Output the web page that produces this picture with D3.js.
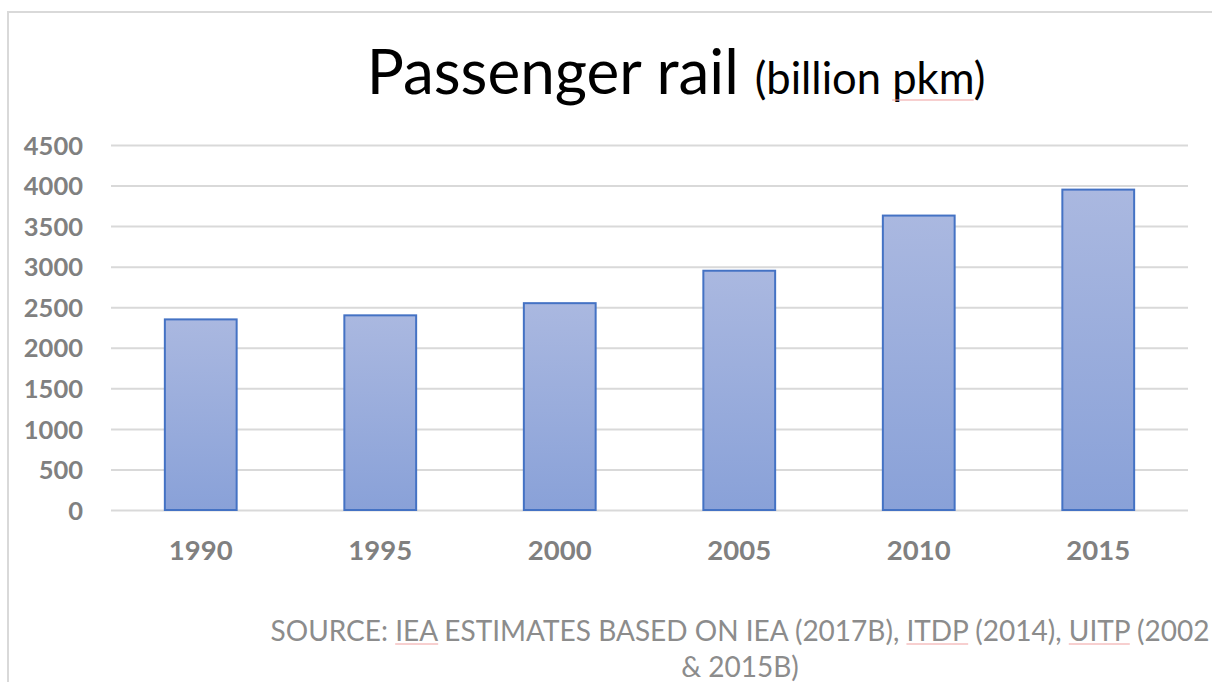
<!DOCTYPE html>
<html>
<head>
<meta charset="utf-8">
<script src="https://cdn.jsdelivr.net/npm/d3@7"></script>
<style>
  html, body { margin: 0; padding: 0; background: #fff; overflow: hidden; }
  #chart { width: 1212px; height: 682px; }
</style>
</head>
<body>
<div id="chart"></div>
<script>
// Veriler
const years = ["1990", "1995", "2000", "2005", "2010", "2015"];
const values = [2350, 2400, 2550, 2950, 3630, 3950];
const yTicks = [0, 500, 1000, 1500, 2000, 2500, 3000, 3500, 4000, 4500];
const titleMain = "Passenger rail";
const titleSub = "(billion pkm)";
const sourceLines = [
    ["SOURCE: ", "IEA", " ESTIMATES BASED ON IEA (2017B), ", "ITDP", " (2014), ", "UITP", " (2002"],
    ["& 2015B)"]
];
const flagged = ["IEA", "ITDP", "UITP", "pkm"];

const width = 1212, height = 682;
const margin = { top: 145, right: 24, bottom: 172, left: 111 };
const plotWidth = width - margin.left - margin.right;
const plotHeight = height - margin.top - margin.bottom;
const font = "Lato, 'Open Sans', sans-serif";

const svg = d3.select("#chart").append("svg")
    .attr("width", width)
    .attr("height", height);

// Gradyan
const grad = svg.append("defs").append("linearGradient")
    .attr("id", "barGrad")
    .attr("x1", 0).attr("y1", 0).attr("x2", 0).attr("y2", 1);
grad.append("stop").attr("offset", "0%").attr("stop-color", "#aab8e0");
grad.append("stop").attr("offset", "100%").attr("stop-color", "#89a1d8");

// Çerçeve
svg.append("rect")
    .attr("x", 8).attr("y", 12)
    .attr("width", width + 10).attr("height", height + 10)
    .attr("fill", "none")
    .attr("stroke", "#d9d9d9")
    .attr("stroke-width", 2);

const g = svg.append("g")
    .attr("transform", `translate(${margin.left},${margin.top})`);

const x = d3.scaleBand()
    .domain(years)
    .range([0, plotWidth])
    .paddingInner(0.6)
    .paddingOuter(0.3);

const y = d3.scaleLinear()
    .domain([0, 4500])
    .range([plotHeight, 0]);

// Izgara
g.append("g")
    .call(d3.axisLeft(y).tickValues(yTicks).tickSize(-plotWidth).tickFormat(""))
    .call(a => a.select(".domain").remove())
    .selectAll("line")
    .attr("stroke", "#d9d9d9")
    .attr("stroke-width", 2);

// Y ekseni
g.append("g")
    .call(d3.axisLeft(y).tickValues(yTicks).tickSize(0).tickPadding(28).tickFormat(d3.format("d")))
    .call(a => a.select(".domain").remove())
    .selectAll("text")
    .attr("dy", "0.36em")
    .style("font-family", font)
    .style("font-size", "25.5px")
    .style("font-weight", "700")
    .style("fill", "#808080");

// X ekseni
g.append("g")
    .attr("transform", `translate(0,${plotHeight})`)
    .call(d3.axisBottom(x).tickSize(0).tickPadding(30))
    .call(a => a.select(".domain").remove())
    .selectAll("text")
    .style("font-family", font)
    .style("font-size", "27.5px")
    .style("font-weight", "700")
    .style("fill", "#808080");

// Çubuklar
g.selectAll(".bar")
    .data(values)
    .enter().append("rect")
    .attr("class", "bar")
    .attr("x", (d, i) => x(years[i]))
    .attr("y", d => y(d))
    .attr("width", x.bandwidth())
    .attr("height", d => plotHeight - y(d))
    .attr("fill", "url(#barGrad)")
    .attr("stroke", "#4472c4")
    .attr("stroke-width", 2);

const underlined = [];

// Başlık
const title = svg.append("text")
    .attr("x", 676)
    .attr("y", 94)
    .attr("text-anchor", "middle")
    .style("font-family", font)
    .style("fill", "#000");
title.append("tspan").style("font-size", "62px").text(titleMain + " ");
const sub = titleSub.slice(0, -1).split(" ");
title.append("tspan").style("font-size", "43.5px").text(sub[0] + " ");
underlined.push(title.append("tspan").style("font-size", "43.5px").text(sub[1]));
title.append("tspan").style("font-size", "43.5px").text(")");

// Kaynak
const src = svg.append("text")
    .attr("x", 740)
    .attr("text-anchor", "middle")
    .style("font-family", font)
    .style("font-size", "28px")
    .style("fill", "#8c8c8c");
sourceLines.forEach((parts, li) => {
    parts.forEach((p, pi) => {
        const t = src.append("tspan").text(p);
        if (pi === 0) t.attr("x", 740).attr("y", 641 + li * 36);
        if (flagged.includes(p)) underlined.push(t);
    });
});

// Yazım denetimi alt çizgileri
underlined.forEach(t => {
    const b = t.node().getBBox();
    svg.append("line")
        .attr("x1", b.x).attr("x2", b.x + b.width)
        .attr("y1", b.y + b.height - 3).attr("y2", b.y + b.height - 3)
        .attr("stroke", "#f0a0a0")
        .attr("stroke-width", 1.2);
});
</script>
</body>
</html>
